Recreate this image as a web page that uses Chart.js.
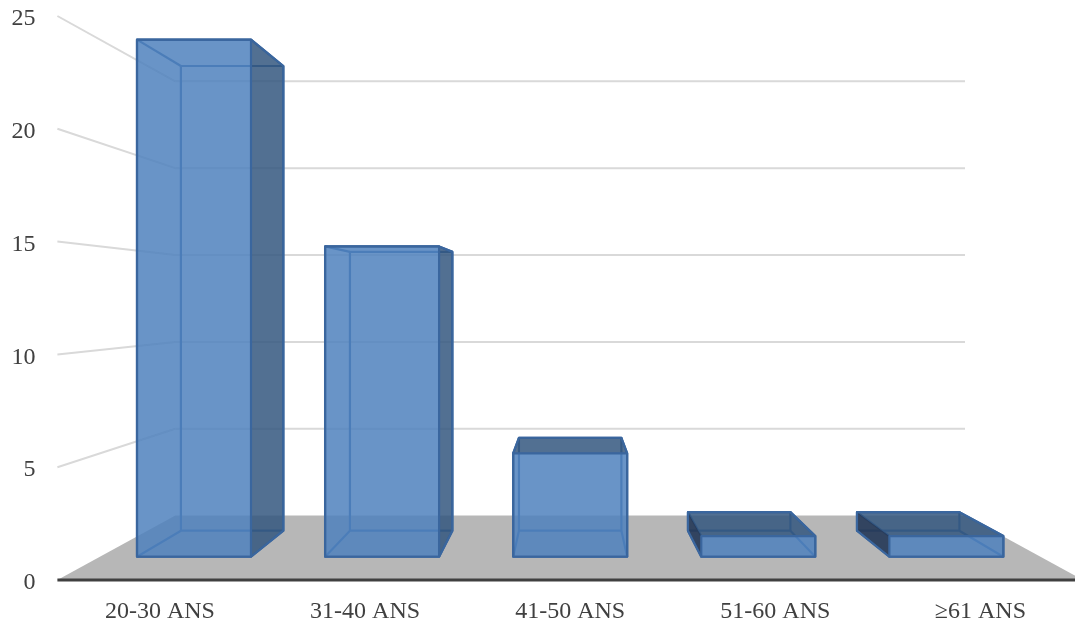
<!DOCTYPE html>
<html>
<head>
<meta charset="utf-8">
<title>Tranches d'âge</title>
<script src="https://cdn.jsdelivr.net/npm/chart.js@4"></script>
<style>
    html, body { margin: 0; padding: 0; background: #fff; overflow: hidden; width: 1075px; height: 628px; }
    #frame { width: 1075px; height: 628px; overflow: hidden; }
    canvas { display: block; }
</style>
</head>
<body>
<div id="frame"><canvas id="ageChart" width="1086" height="628"></canvas></div>
<script>
// Chart data
const categories = ['20-30 ANS', '31-40 ANS', '41-50 ANS', '51-60 ANS', '≥61 ANS'];
const patients = [25, 15, 5, 1, 1];
const tickValues = [0, 5, 10, 15, 20, 25];

// Perspective settings: everything shrinks towards the vanishing point
const vanishX = 570;
const vanishY = 300;
const wallDepth = 0.77;
const barFrontDepth = 0.917;
const barBackDepth = 0.824;

function project(x, y, depth) {
    return [vanishX + (x - vanishX) * depth, vanishY + (y - vanishY) * depth];
}

function tracePolygon(ctx, points) {
    ctx.beginPath();
    points.forEach((p, i) => i === 0 ? ctx.moveTo(p[0], p[1]) : ctx.lineTo(p[0], p[1]));
    ctx.closePath();
}

function drawLine(ctx, a, b) {
    ctx.beginPath();
    ctx.moveTo(a[0], a[1]);
    ctx.lineTo(b[0], b[1]);
    ctx.stroke();
}

// Outline of a box: convex hull of its projected corners
function outline(points) {
    const sorted = points.slice().sort((a, b) => a[0] - b[0] || a[1] - b[1]);
    const cross = (o, a, b) => (a[0] - o[0]) * (b[1] - o[1]) - (a[1] - o[1]) * (b[0] - o[0]);
    const half = list => {
        const out = [];
        list.forEach(p => {
            while (out.length > 1 && cross(out[out.length - 2], out[out.length - 1], p) <= 0) out.pop();
            out.push(p);
        });
        out.pop();
        return out;
    };
    return half(sorted).concat(half(sorted.slice().reverse()));
}

// Floor, back wall and side wall
const roomPlugin = {
    id: 'room',
    beforeDatasetsDraw(chart) {
        const { ctx, scales: { x, y } } = chart;
        const zero = y.getPixelForValue(0);
        ctx.save();

        ctx.fillStyle = '#b7b7b7';
        tracePolygon(ctx, [
            [x.left, zero],
            project(x.left, zero, wallDepth),
            project(x.right, zero, wallDepth),
            [x.right, zero]
        ]);
        ctx.fill();

        ctx.strokeStyle = '#d9d9d9';
        ctx.lineWidth = 2;
        tickValues.filter(v => v > 0).forEach(v => {
            const py = y.getPixelForValue(v);
            const corner = project(x.left, py, wallDepth);
            drawLine(ctx, [x.left, py], corner);
            drawLine(ctx, corner, project(x.right, py, wallDepth));
        });

        ctx.strokeStyle = '#404040';
        ctx.lineWidth = 3;
        drawLine(ctx, [x.left, zero], [x.right, zero]);
        ctx.restore();
    }
};

// Each bar element is extruded into a translucent box
const boxPlugin = {
    id: 'boxes',
    afterDatasetsDraw(chart) {
        const { ctx } = chart;
        const edgeColor = '#3a669e';
        const frontColor = 'rgba(79, 129, 189, 0.85)';
        const shadeColor = 'rgba(52, 87, 127, 0.85)';
        const leftColor = 'rgba(38, 58, 88, 0.92)';

        chart.getDatasetMeta(0).data.forEach(bar => {
            const left = bar.x - bar.width / 2;
            const right = bar.x + bar.width / 2;
            const top = bar.y;
            const bottom = bar.base;

            const ftl = project(left, top, barFrontDepth);
            const ftr = project(right, top, barFrontDepth);
            const fbl = project(left, bottom, barFrontDepth);
            const fbr = project(right, bottom, barFrontDepth);
            const btl = project(left, top, barBackDepth);
            const btr = project(right, top, barBackDepth);
            const bbl = project(left, bottom, barBackDepth);
            const bbr = project(right, bottom, barBackDepth);

            ctx.save();
            ctx.strokeStyle = edgeColor;
            ctx.lineWidth = 2.2;
            ctx.lineJoin = 'round';

            // Back edges and the edges running in depth
            tracePolygon(ctx, [btl, btr, bbr, bbl]);
            ctx.stroke();
            [[ftl, btl], [ftr, btr], [fbl, bbl], [fbr, bbr]].forEach(e => drawLine(ctx, e[0], e[1]));

            // Dark faces only show where they stick out of the front face
            ctx.save();
            ctx.beginPath();
            ctx.rect(0, 0, chart.width, chart.height);
            ctx.rect(ftl[0], ftl[1], ftr[0] - ftl[0], fbl[1] - ftl[1]);
            ctx.clip('evenodd');
            ctx.fillStyle = shadeColor;
            if (btl[1] < ftl[1]) {
                tracePolygon(ctx, [ftl, ftr, btr, btl]);
                ctx.fill();
            }
            if (btr[0] > ftr[0]) {
                tracePolygon(ctx, [ftr, fbr, bbr, btr]);
                ctx.fill();
            }
            if (btl[0] < ftl[0]) {
                ctx.fillStyle = leftColor;
                tracePolygon(ctx, [ftl, fbl, bbl, btl]);
                ctx.fill();
            }
            ctx.restore();

            // Front face on top
            ctx.fillStyle = frontColor;
            tracePolygon(ctx, [ftl, ftr, fbr, fbl]);
            ctx.fill();
            ctx.stroke();

            tracePolygon(ctx, outline([ftl, ftr, fbl, fbr, btl, btr, bbl, bbr]));
            ctx.stroke();
            ctx.restore();
        });
    }
};

new Chart(document.getElementById('ageChart'), {
    type: 'bar',
    data: {
        labels: categories,
        datasets: [{
            data: patients,
            backgroundColor: 'rgba(0, 0, 0, 0)',
            borderWidth: 0,
            barPercentage: 1,
            categoryPercentage: 0.606
        }]
    },
    options: {
        responsive: false,
        animation: false,
        layout: { padding: { top: 16, right: 3, left: 0, bottom: 0 } },
        plugins: { legend: { display: false }, tooltip: { enabled: false } },
        scales: {
            x: {
                grid: { display: false, drawTicks: false },
                border: { display: false },
                ticks: {
                    color: '#404040',
                    padding: 17,
                    maxRotation: 0,
                    font: { family: '"Liberation Serif"', size: 24 }
                },
                afterFit: scale => { scale.height = 48; }
            },
            y: {
                min: 0,
                max: 25,
                grid: { display: false, drawTicks: false },
                border: { display: false },
                afterBuildTicks: scale => { scale.ticks = tickValues.map(value => ({ value })); },
                ticks: {
                    color: '#404040',
                    padding: 22,
                    labelOffset: 3,
                    font: { family: '"Liberation Serif"', size: 24 }
                },
                afterFit: scale => {
                    scale.width = 57.4;
                    scale.paddingTop = 0;
                    scale.paddingBottom = 0;
                }
            }
        }
    },
    plugins: [roomPlugin, boxPlugin]
});
</script>
</body>
</html>
